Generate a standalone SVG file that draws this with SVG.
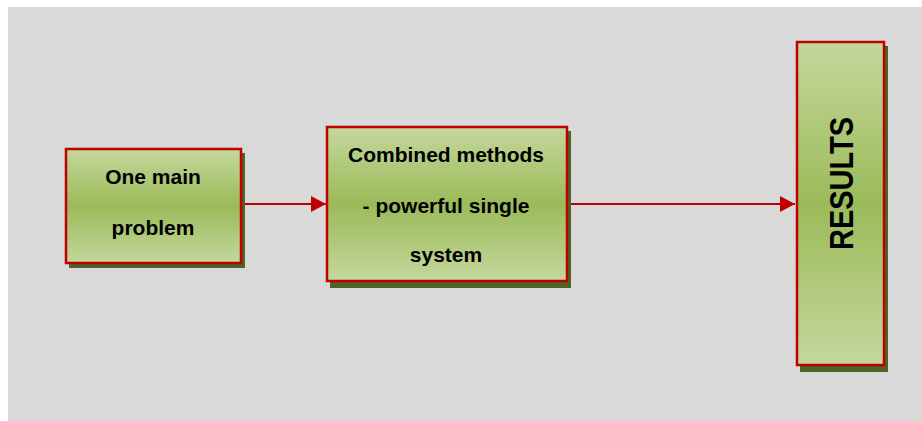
<svg xmlns="http://www.w3.org/2000/svg" width="922" height="421" viewBox="0 0 922 421">
  <style>
    .box { fill: url(#boxFill); stroke: #c00000; stroke-width: 2.5; }
    .shadow { fill: #4f6228; }
    .label { font-family: "Liberation Sans", Arial, sans-serif; font-weight: bold; font-size: 21px; fill: #000; text-anchor: middle; }
    .link { stroke: #c00000; stroke-width: 2; fill: none; marker-end: url(#arrow); }
  </style>
  <defs>
    <linearGradient id="boxFill" x1="0" y1="0" x2="0" y2="1">
      <stop offset="0" stop-color="#c4d79c"/>
      <stop offset="0.5" stop-color="#9bbb59"/>
      <stop offset="1" stop-color="#c4d79c"/>
    </linearGradient>
    <marker id="arrow" markerUnits="userSpaceOnUse" markerWidth="16" markerHeight="16" refX="15" refY="8" orient="auto">
      <path d="M0,0 L15,8 L0,16 Z" fill="#c00000"/>
    </marker>
  </defs>

  <!-- backdrop -->
  <rect x="8" y="7" width="914" height="414" fill="#d9d9d9"/>

  <!-- connectors -->
  <g id="connectors">
    <line class="link" x1="242" y1="204" x2="326" y2="204"/>
    <line class="link" x1="568" y1="204" x2="795" y2="204"/>
  </g>

  <g id="problem">
    <rect class="shadow" x="69" y="153" width="176" height="115"/>
    <rect class="box" x="66" y="149" width="175" height="114"/>
    <text class="label" x="153" y="184">One main</text>
    <text class="label" x="153" y="235">problem</text>
  </g>

  <g id="methods">
    <rect class="shadow" x="330" y="131" width="241" height="157"/>
    <rect class="box" x="327" y="127" width="240" height="154"/>
    <text class="label" x="446" y="162">Combined methods</text>
    <text class="label" x="446" y="213">- powerful single</text>
    <text class="label" x="446" y="262">system</text>
  </g>

  <g id="results">
    <rect class="shadow" x="800" y="46" width="88" height="326"/>
    <rect class="box" x="797" y="42" width="87" height="323"/>
    <text class="label" transform="translate(853,183.5) rotate(-90)" x="0" y="0" font-size="34" textLength="133" lengthAdjust="spacingAndGlyphs" style="font-size:34px">RESULTS</text>
  </g>
</svg>
